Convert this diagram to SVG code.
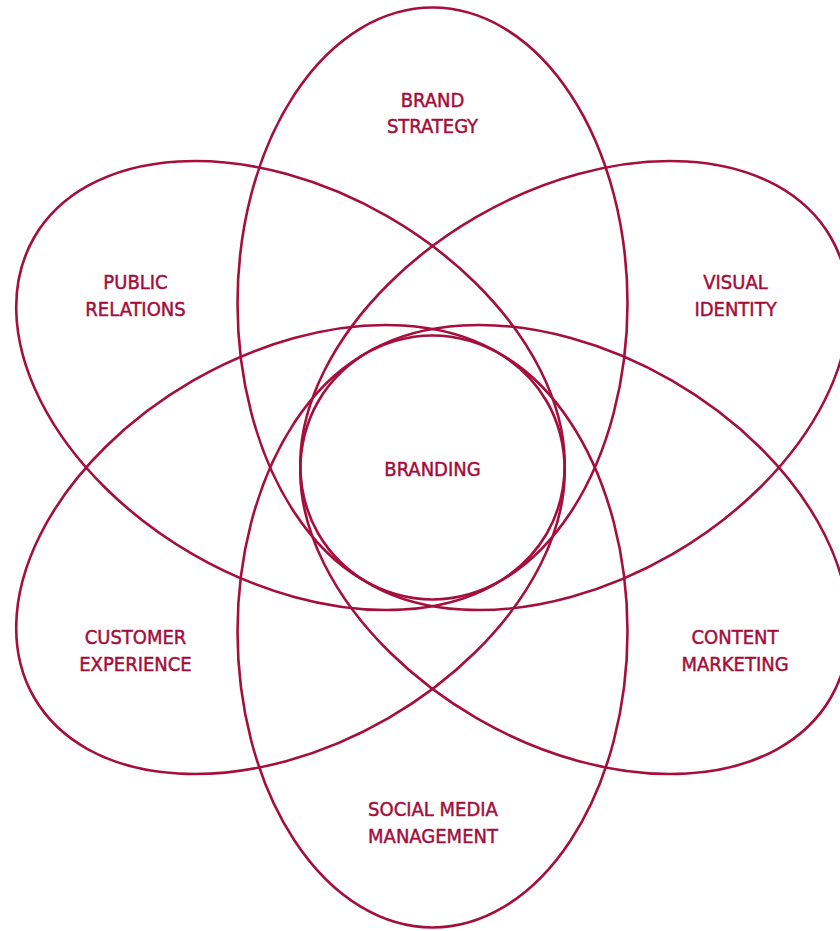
<svg xmlns="http://www.w3.org/2000/svg" width="840" height="931" viewBox="0 0 840 931">
<style>
.e{fill:none;stroke:#a50f3c;stroke-width:2.6}
.t{font-family:"DejaVu Sans Condensed","DejaVu Sans",sans-serif;font-stretch:condensed;font-size:20px;fill:#a30d3a;stroke:#a30d3a;stroke-width:0.45;text-anchor:middle}
</style>
<defs>
<ellipse id="petal" cx="432.5" cy="303.5" rx="195" ry="296"/>
</defs>
<rect width="840" height="931" fill="#fff"/>
<g id="connectors"></g>
<g id="brand-strategy">
<use href="#petal" class="e"/>
<text class="t"><tspan x="432.5" y="107">BRAND</tspan><tspan x="432.5" y="133">STRATEGY</tspan></text>
</g>
<g id="visual-identity">
<use href="#petal" class="e" transform="rotate(60 432.5 467.5)"/>
<text class="t"><tspan x="735.5" y="288.5">VISUAL</tspan><tspan x="735.5" y="315.5">IDENTITY</tspan></text>
</g>
<g id="content-marketing">
<use href="#petal" class="e" transform="rotate(120 432.5 467.5)"/>
<text class="t"><tspan x="735" y="644">CONTENT</tspan><tspan x="735" y="671">MARKETING</tspan></text>
</g>
<g id="social-media-management">
<use href="#petal" class="e" transform="rotate(180 432.5 467.5)"/>
<text class="t"><tspan x="433" y="816">SOCIAL MEDIA</tspan><tspan x="433" y="843">MANAGEMENT</tspan></text>
</g>
<g id="customer-experience">
<use href="#petal" class="e" transform="rotate(240 432.5 467.5)"/>
<text class="t"><tspan x="135.5" y="644">CUSTOMER</tspan><tspan x="135.5" y="671">EXPERIENCE</tspan></text>
</g>
<g id="public-relations">
<use href="#petal" class="e" transform="rotate(300 432.5 467.5)"/>
<text class="t"><tspan x="135.5" y="288.5">PUBLIC</tspan><tspan x="135.5" y="315.5">RELATIONS</tspan></text>
</g>
<g id="branding">
<text class="t" x="432.5" y="475.5">BRANDING</text>
</g>
</svg>
